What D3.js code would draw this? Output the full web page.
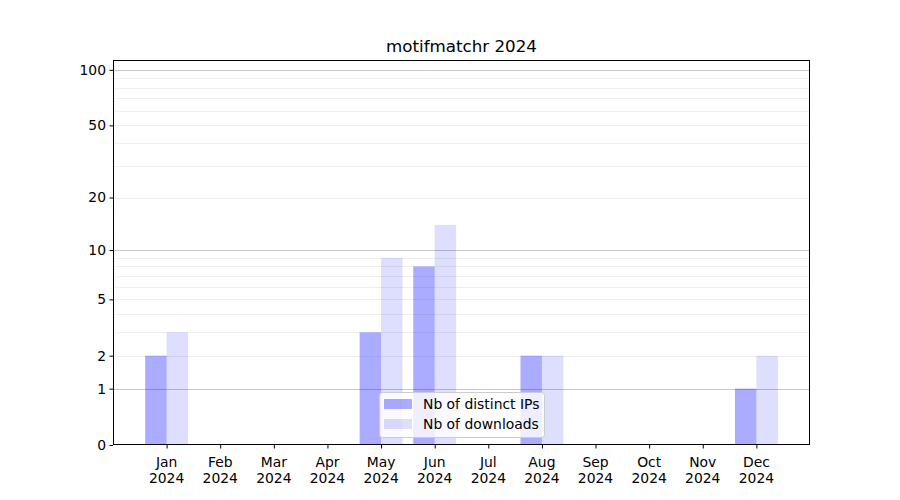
<!DOCTYPE html>
<html><head><meta charset="utf-8">
<script src="https://cdn.jsdelivr.net/npm/d3@7"></script>
<style>body{margin:0;background:#fff;}svg{font-family:"DejaVu Sans",sans-serif;}</style>
</head><body><svg id="c" width="900" height="500"></svg>
<script>
const months = ["Jan","Feb","Mar","Apr","May","Jun","Jul","Aug","Sep","Oct","Nov","Dec"];
const yearLabel = "2024";
const distinctIPs = [2,0,0,0,3,8,0,2,0,0,0,1];
const downloads = [3,0,0,0,9,14,0,2,0,0,0,2];
const yTicks = [0,1,2,5,10,20,50,100];
const majorGrid = [1,10,100];
const minorGrid = [2,3,4,5,6,7,8,9,20,30,40,50,60,70,80,90];
const title = "motifmatchr 2024";
const seriesNames = ["Nb of distinct IPs","Nb of downloads"];

const FS = 13.9;
const svg = d3.select("#c");
const L=113,R=810,T=60,B=445;
const x = d3.scaleLinear().domain([-1,12]).range([L,R]);
const y = d3.scaleSymlog().constant(1).domain([0,113]).range([B,T]);
const bw = x(0.4)-x(0);

const g = svg.append("g");
g.selectAll("line.minor").data(minorGrid).join("line")
  .attr("x1",L).attr("x2",R).attr("y1",d=>Math.round(y(d))+0.5).attr("y2",d=>Math.round(y(d))+0.5)
  .attr("stroke","#ebebeb").attr("stroke-width",0.8);
g.selectAll("line.major").data(majorGrid).join("line")
  .attr("x1",L).attr("x2",R).attr("y1",d=>Math.round(y(d))+0.5).attr("y2",d=>Math.round(y(d))+0.5)
  .attr("stroke","#c8c8c8").attr("stroke-width",1);

g.selectAll("rect.ip").data(distinctIPs).join("rect")
  .attr("x",(d,i)=>x(i)-bw).attr("width",bw)
  .attr("y",d=>y(d)).attr("height",d=>B-y(d))
  .attr("fill","blue").attr("fill-opacity",0.33);
g.selectAll("rect.dl").data(downloads).join("rect")
  .attr("x",(d,i)=>x(i)).attr("width",bw)
  .attr("y",d=>y(d)).attr("height",d=>B-y(d))
  .attr("fill","blue").attr("fill-opacity",0.13);

// axes
const ya = d3.axisLeft(y).tickValues(yTicks).tickFormat(d3.format("d")).tickSize(3.5).tickPadding(3.5);
const yg = svg.append("g").attr("transform",`translate(${L},0)`).call(ya);
yg.select(".domain").remove();
yg.selectAll("text").attr("font-size",FS).attr("fill","#000").attr("font-family","DejaVu Sans");
yg.selectAll("line").attr("stroke","#000");

const xa = d3.axisBottom(x).tickValues(d3.range(12)).tickFormat(()=>"").tickSize(3.5);
const xg = svg.append("g").attr("transform",`translate(0,${B})`).call(xa);
xg.select(".domain").remove();
xg.selectAll("line").attr("stroke","#000");
const lbl = svg.append("g").selectAll("text").data(months).join("text")
  .attr("x",(d,i)=>x(i)).attr("y",B+22).attr("text-anchor","middle").attr("font-size",FS);
lbl.append("tspan").attr("x",(d,i)=>x(i)).text(d=>d);
lbl.append("tspan").attr("x",(d,i)=>x(i)).attr("dy",16).text(yearLabel);

svg.append("rect").attr("x",L+0.5).attr("y",T+0.5).attr("width",R-L-1).attr("height",B-T-1)
  .attr("fill","none").attr("stroke","#000").attr("stroke-width",1);

svg.append("text").attr("x",(L+R)/2).attr("y",T-8).attr("text-anchor","middle")
  .attr("font-size",16.7).text(title);

// legend
const lg = svg.append("g").attr("transform","translate(379,392)");
lg.append("rect").attr("x",0.5).attr("y",0.5).attr("width",165).attr("height",45).attr("rx",3)
  .attr("fill","#fff").attr("fill-opacity",0.8).attr("stroke","#ccc");
const op=[0.33,0.13];
seriesNames.forEach((s,i)=>{
  lg.append("rect").attr("x",5).attr("y",7+i*20).attr("width",28).attr("height",10)
    .attr("fill","blue").attr("fill-opacity",op[i]);
  lg.append("text").attr("x",44).attr("y",17+i*20).attr("font-size",FS).text(s);
});
</script></body></html>
